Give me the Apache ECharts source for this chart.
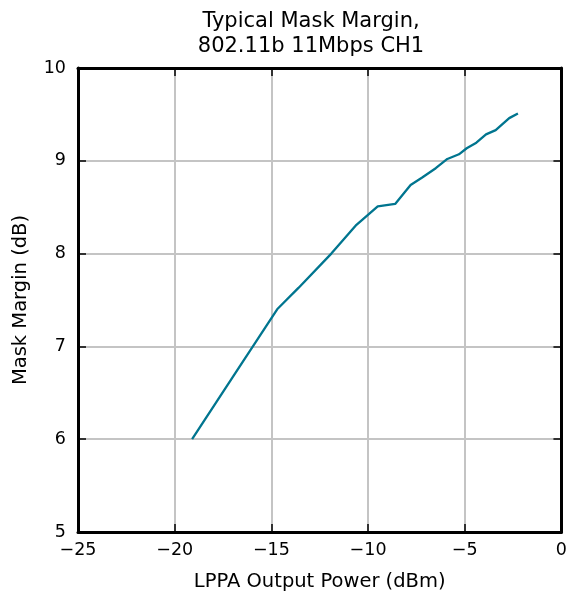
<!DOCTYPE html>
<html><head><meta charset="utf-8">
<script src="https://cdn.jsdelivr.net/npm/echarts@6/dist/echarts.min.js"></script>
<style>html,body{margin:0;padding:0;background:#fff}#c{width:570px;height:599px}</style>
</head><body><div id="c"></div>
<script>
const titleText = 'Typical Mask Margin,\n802.11b 11Mbps CH1';
const xName = 'LPPA Output Power (dBm)';
const yName = 'Mask Margin (dB)';
const outputPower = [-19.1, -17.0, -14.7, -13.6, -11.9, -10.6, -9.5, -8.6, -7.8, -7.2, -6.5, -5.9, -5.3, -4.9, -4.4, -3.9, -3.4, -2.7, -2.25];
const maskMargin  = [6.0, 6.67, 7.4, 7.63, 8.0, 8.31, 8.51, 8.535, 8.74, 8.82, 8.92, 9.02, 9.07, 9.135, 9.195, 9.285, 9.33, 9.46, 9.51];
const xRange = [-25, 0, 5];
const yRange = [5, 10, 1];

const font = 'DejaVu Sans';
const minus = v => String(v).replace('-', '\u2212');
const chart = echarts.init(document.getElementById('c'));
const frame = {show: true, onZero: false, lineStyle: {color: '#000', width: 3}};
const tick = {show: true, inside: true, length: 8, lineStyle: {color: '#000', width: 1.5}};
chart.setOption({
  animation: false,
  title: {text: titleText, left: 306, top: 4, textAlign: 'center',
    textStyle: {fontFamily: font, fontSize: 21, fontWeight: 'normal', color: '#000', lineHeight: 25}},
  grid: {left: 78, right: 7, top: 68, bottom: 67},
  xAxis: [{
    type: 'value', min: xRange[0], max: xRange[1], interval: xRange[2], position: 'bottom',
    name: xName, nameLocation: 'middle', nameGap: 40,
    nameTextStyle: {fontFamily: font, fontSize: 19.5, color: '#000'},
    axisLine: frame, axisTick: tick,
    axisLabel: {fontFamily: font, fontSize: 17.5, color: '#000', margin: 9, formatter: minus},
    splitLine: {show: true, lineStyle: {color: '#c4c4c4', width: 2}}
  }, {
    type: 'value', min: xRange[0], max: xRange[1], interval: xRange[2], position: 'top',
    axisLine: frame, axisTick: tick, axisLabel: {show: false}, splitLine: {show: false}
  }],
  yAxis: [{
    type: 'value', min: yRange[0], max: yRange[1], interval: yRange[2], position: 'left',
    name: yName, nameLocation: 'middle', nameGap: 47,
    nameTextStyle: {fontFamily: font, fontSize: 19.5, color: '#000'},
    axisLine: frame, axisTick: tick,
    axisLabel: {fontFamily: font, fontSize: 17.5, color: '#000', margin: 12},
    splitLine: {show: true, lineStyle: {color: '#c4c4c4', width: 2}}
  }, {
    type: 'value', min: yRange[0], max: yRange[1], interval: yRange[2], position: 'right',
    axisLine: frame, axisTick: tick, axisLabel: {show: false}, splitLine: {show: false}
  }],
  series: [{
    type: 'line', showSymbol: false, symbol: 'none',
    data: outputPower.map((x, i) => [x, maskMargin[i]]),
    lineStyle: {color: '#00758f', width: 2.3}
  }]
});
</script></body></html>
